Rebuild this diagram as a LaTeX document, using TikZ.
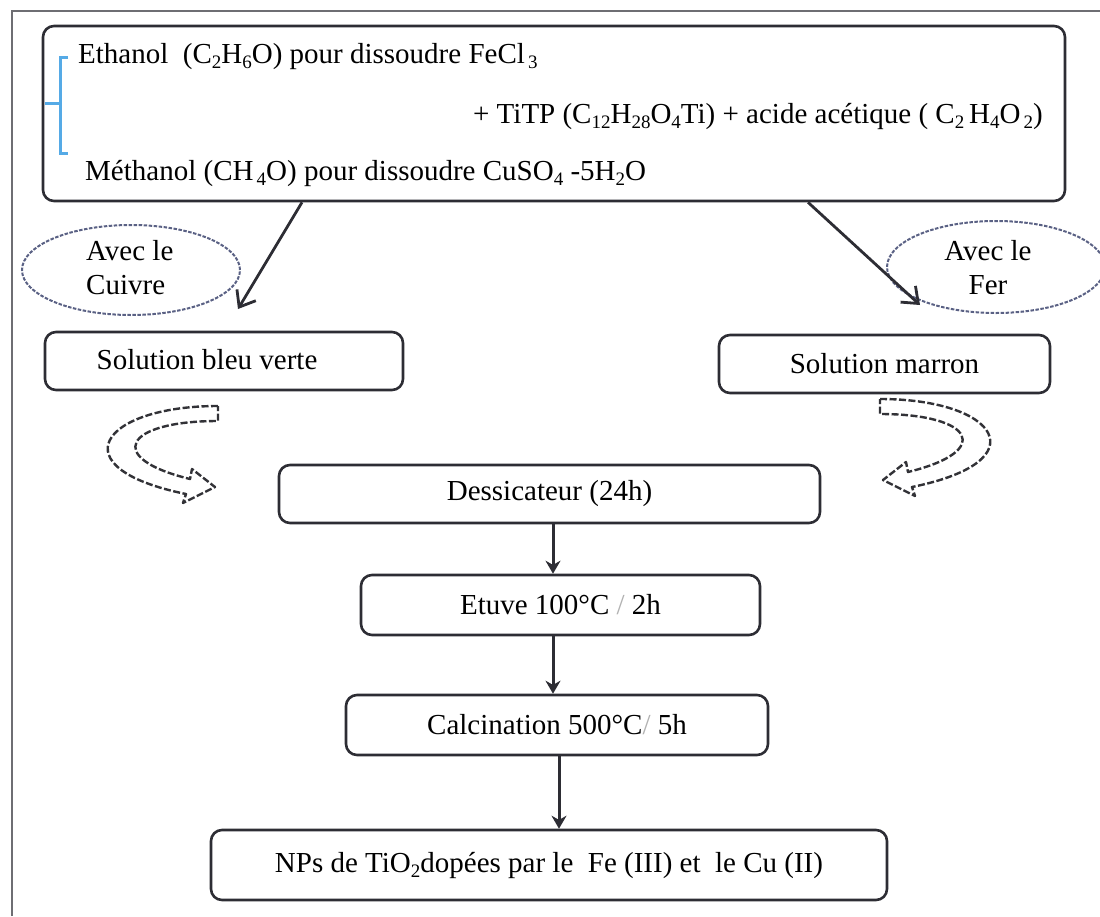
\documentclass[tikz,border=0pt]{standalone}
\usepackage{fontspec}
\setmainfont{Liberation Serif}
\usetikzlibrary{arrows.meta,shapes.geometric,calc}
\definecolor{boxline}{RGB}{45,45,52}
\definecolor{ellline}{RGB}{90,97,132}
\definecolor{bracketblue}{RGB}{85,170,230}
\definecolor{framegray}{RGB}{110,110,115}
\definecolor{curvegray}{RGB}{50,50,55}
\newcommand\ssb[1]{\raisebox{-0.45ex}{\fontsize{19}{19}\selectfont #1}}
\begin{document}
\begin{tikzpicture}[x=1pt,y=-1pt,
  every node/.style={font=\fontsize{29}{33}\selectfont, inner sep=0pt},
  stepbox/.style={draw=boxline, line width=2.6pt, rounded corners=11pt, fill=white},
  ellbox/.style={ellipse, draw=ellline, line width=2pt, dash pattern=on 3.5pt off 1.5pt},
  varrow/.style={draw=boxline, line width=3pt, -{Stealth[length=13pt,width=15pt]}},
  darrow/.style={draw=boxline, line width=2.8pt, -{Straight Barb[length=14pt,width=22pt]}},
  hollow/.style={draw=curvegray, line width=2.4pt, dash pattern=on 7pt off 2.5pt, fill=white, line join=round}]
\useasboundingbox (0,0) rectangle (1100,916);
% outer frame
\draw[framegray, line width=1.5pt] (12,916) -- (12,11) -- (1100,11);
% top box
\node[stepbox, minimum width=1022pt, minimum height=175pt] (top) at (554,113.5) {};
\node[anchor=base west] (l1) at (78,63) {Ethanol\ \ (C\ssb{2}H\ssb{6}O) pour dissoudre FeCl\ssb{\,3}};
\node[anchor=base east] (l2) at (1043,123) {+ TiTP (C\ssb{12}H\ssb{28}O\ssb{4}Ti) + acide acétique ( C\ssb{2}\,H\ssb{4}O\ssb{\,2})};
\node[anchor=base west] (l3) at (85,180) {Méthanol (CH\ssb{\,4}O) pour dissoudre CuSO\ssb{4} -5H\ssb{2}O};
\draw[bracketblue, line width=3pt] (68,57) -- (60,57) -- (60,153) -- (68,153) (45,103) -- (60,103);
% ellipses
\node[ellbox, minimum width=218pt, minimum height=90pt] (cu) at (131,270) {};
\node[align=left, anchor=west] (cut) at (86,268) {Avec le\\[1pt]Cuivre};
\node[ellbox, minimum width=218pt, minimum height=92pt] (fe) at (996,267) {};
\node[align=center] (fet) at (988,268) {Avec le\\[1pt]Fer};
% solution boxes
\node[stepbox, minimum width=358pt, minimum height=58pt] (bv) at (224,361) {};
\node (bvt) at (207,360) {Solution bleu verte};
\node[stepbox, minimum width=331pt, minimum height=58pt] (ma) at (884.5,364) {Solution marron};
% diagonal arrows
\coordinate (tipL) at (238,309);
\coordinate (tipR) at (920,305);
\draw[darrow] ([xshift=-252pt]top.south) -- (tipL);
\draw[darrow] ([xshift=254pt]top.south) -- (tipR);
% process boxes
\node[stepbox, minimum width=541pt, minimum height=58pt] (des) at (549.5,494) {Dessicateur (24h)};
\node[stepbox, minimum width=399pt, minimum height=60pt] (etu) at (560.5,605) {Etuve 100°C {\color{black!30}/} 2h};
\node[stepbox, minimum width=422pt, minimum height=60pt] (cal) at (557,725) {Calcination 500°C{\color{black!30}/} 5h};
\node[stepbox, minimum width=676pt, minimum height=70pt] (nps) at (549,865) {NPs de TiO\ssb{2}dopées par le\ \ Fe (III) et\ \ le Cu (II)};
\draw[varrow] ([xshift=3.5pt]des.south) -- ([xshift=3.5pt]des.south |- etu.north);
\draw[varrow] ([xshift=-7.5pt]etu.south) -- ([xshift=-7.5pt]etu.south |- cal.north);
\draw[varrow] ([xshift=2pt]cal.south) -- ([xshift=2pt]cal.south |- nps.north);
% curved hollow arrows
\draw[hollow] (218,406) .. controls (100,406) and (58,468) .. (186,494)
  -- (183,503) -- (215,487) -- (192,469) -- (190,479)
  .. controls (104,458) and (124,421) .. (218,421) -- cycle;
\begin{scope}[shift={(1098,-7)}, xscale=-1]
\draw[hollow] (218,406) .. controls (100,406) and (58,468) .. (186,494)
  -- (183,503) -- (215,487) -- (192,469) -- (190,479)
  .. controls (104,458) and (124,421) .. (218,421) -- cycle;
\end{scope}
\end{tikzpicture}
\end{document}
